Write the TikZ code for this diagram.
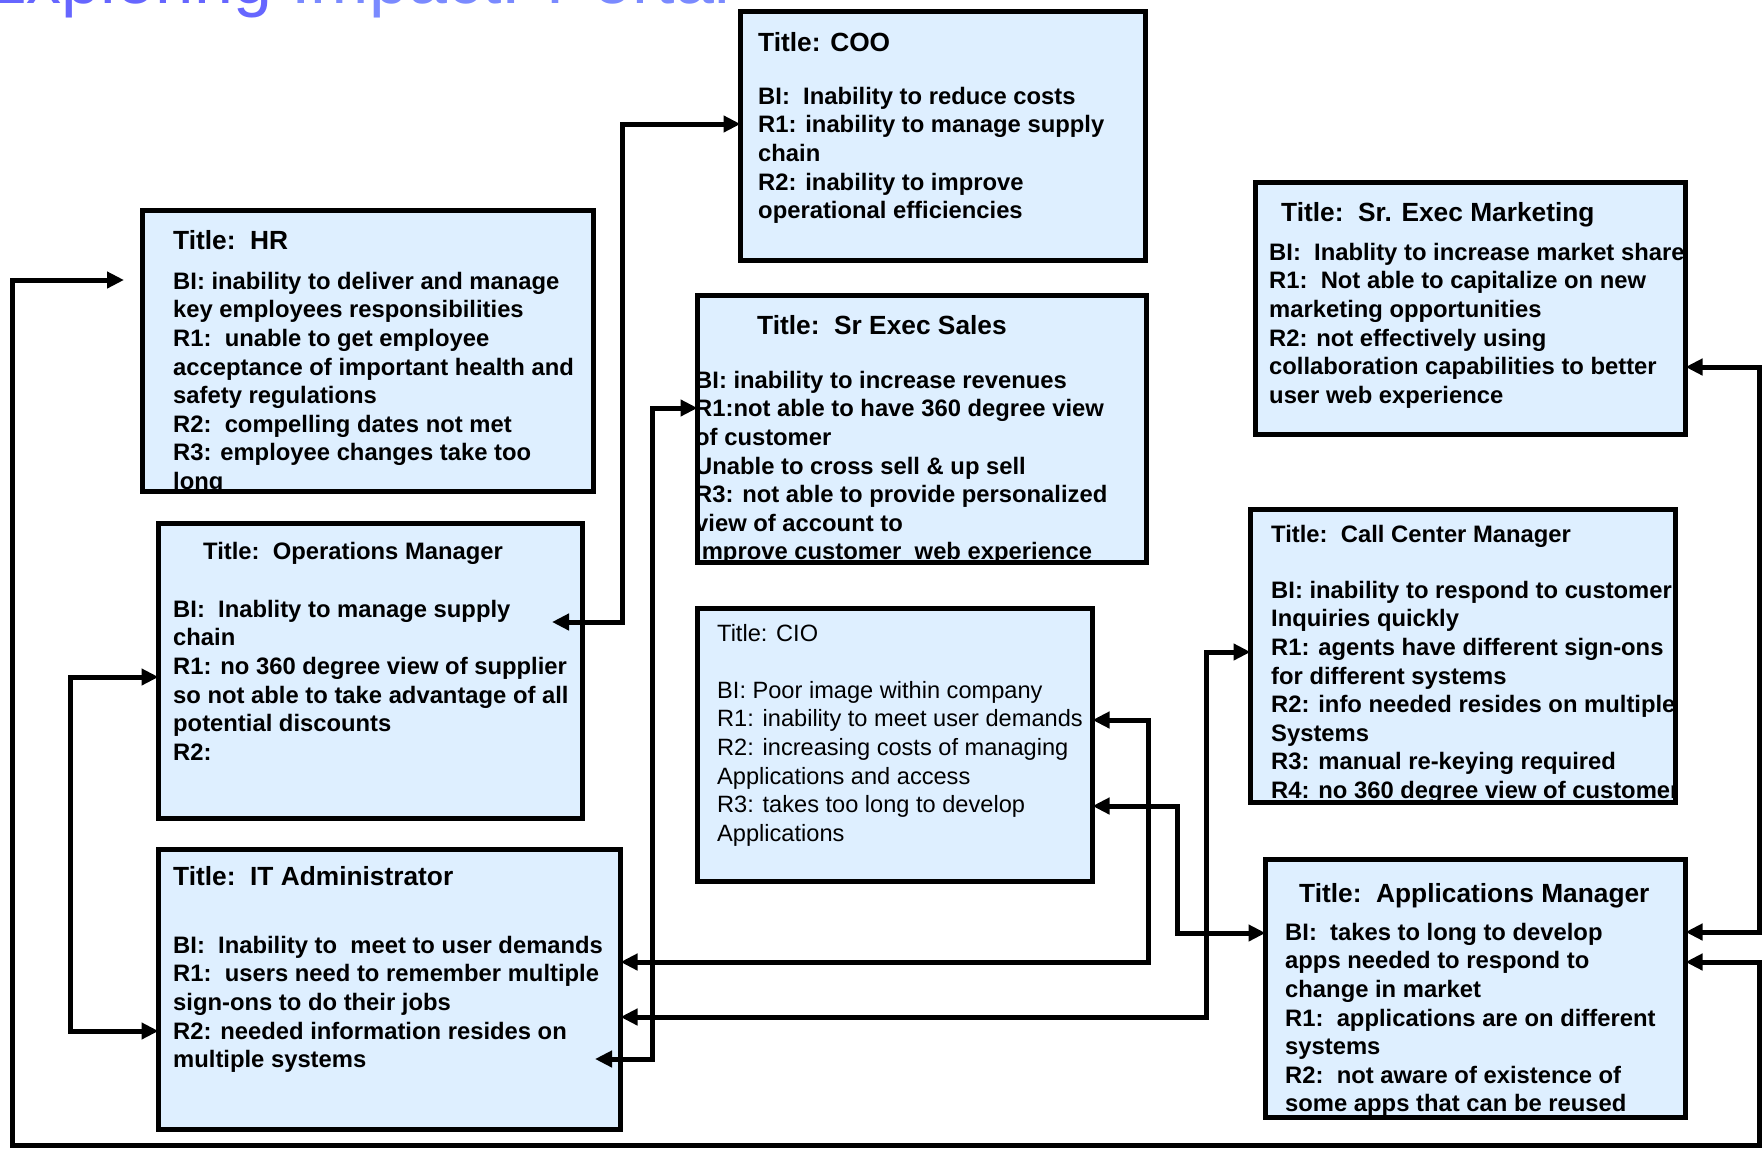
\documentclass[tikz,border=0pt]{standalone}
\usepackage{fontspec}
\setmainfont{Liberation Sans}
\usetikzlibrary{arrows.meta}

\definecolor{cardfill}{RGB}{222,239,255}
\definecolor{headblue}{RGB}{102,102,255}
\definecolor{headbluelight}{RGB}{122,138,255}

% first-line strut: puts the top of a text block 20pt above its first baseline
\newcommand{\cardstrut}{\rule{0pt}{20pt}}

\tikzset{
  cardbg/.style={fill=cardfill, draw=none, inner sep=0pt, outer sep=0pt, anchor=north west},
  cardline/.style={draw=black, line width=5pt},
  heading/.style={anchor=base west, inner sep=0pt, font=\fontsize{26.3}{31}\selectfont\bfseries},
  smallheading/.style={heading, font=\fontsize{23.8}{28.6}\selectfont\bfseries},
  plainheading/.style={heading, font=\fontsize{23.6}{28.6}\selectfont},
  body/.style={anchor=north west, inner sep=0pt, align=left, font=\fontsize{23.8}{28.6}\selectfont\bfseries},
  plainbody/.style={body, font=\fontsize{23.6}{28.6}\selectfont},
  link/.style={line width=5pt, {Triangle[length=17pt,width=16pt]}-{Triangle[length=17pt,width=16pt]}},
  pagetitle/.style={anchor=base west, inner sep=0pt, font=\fontsize{70}{80}\selectfont},
}

% card background: name, left, top, right, bottom (outer edges of the frame)
\newcommand{\rolecard}[5]{%
  \node[cardbg, minimum width={(#4)-(#2)-5}, minimum height={(#5)-(#3)-5}]
    (#1) at ({#2+2.5},{#3+2.5}) {};}
% card contents clipped to the frame, then the frame on top
\newcommand{\cardcontent}[2]{%
  \begin{scope}
    \clip (#1.north west) rectangle (#1.south east);
    #2
  \end{scope}
  \draw[cardline] (#1.north west) rectangle (#1.south east);}

\begin{document}
\begin{tikzpicture}[x=1pt,y=-1pt]
\useasboundingbox (0,0) rectangle (1762,1152);
\fill[white] (0,0) rectangle (1762,1152);

% page heading
\node[pagetitle] (pageTitle) at (-20,3)
  {{\color{headblue}Exploring} {\color{headbluelight}Impact: Portal}};

% ---------- cards ----------
\rolecard{coo}{738}{9}{1148}{263}
\cardcontent{coo}{%
  \node[heading] (cooTitle) at (758,51) {Title: COO};
  \node[body] (cooText) at (758,84) {\cardstrut BI:\ \ Inability to reduce costs\\
    R1: inability to manage supply\\
    chain\\
    R2: inability to improve\\
    operational efficiencies};}

\rolecard{hr}{140}{208}{596}{494}
\cardcontent{hr}{%
  \node[heading] (hrTitle) at (173,249) {Title:\ \ HR};
  \node[body] (hrText) at (173,269) {\cardstrut BI: inability to deliver and manage\\
    key employees responsibilities\\
    R1:\ \ unable to get employee\\
    acceptance of important health and\\
    safety regulations\\
    R2:\ \ compelling dates not met\\
    R3: employee changes take too\\
    long};}

\rolecard{mkt}{1253}{180}{1688}{437}
\cardcontent{mkt}{%
  \node[heading] (mktTitle) at (1281,221) {Title:\ \ Sr. Exec Marketing};
  \node[body] (mktText) at (1269,240) {\cardstrut BI:\ \ Inablity to increase market share\\
    R1:\ \ Not able to capitalize on new\\
    marketing opportunities\\
    R2: not effectively using\\
    collaboration capabilities to better\\
    user web experience};}

\rolecard{sales}{695}{293}{1149}{565}
\cardcontent{sales}{%
  \node[heading] (salesTitle) at (757,334) {Title:\ \ Sr Exec Sales};
  \node[body] (salesText) at (695,368) {\cardstrut BI: inability to increase revenues\\
    R1:not able to have 360 degree view\\
    of customer\\
    Unable to cross sell \& up sell\\
    R3: not able to provide personalized\\
    view of account to\\
    Improve customer\ \ web experience};}

\rolecard{ops}{156}{521}{585}{821}
\cardcontent{ops}{%
  \node[smallheading] (opsTitle) at (203,559) {Title:\ \ Operations Manager};
  \node[body] (opsText) at (173,597) {\cardstrut BI:\ \ Inablity to manage supply\\
    chain\\
    R1: no 360 degree view of supplier\\
    so not able to take advantage of all\\
    potential discounts\\
    R2:};}

\rolecard{cio}{695}{606}{1095}{884}
\cardcontent{cio}{%
  \node[plainheading] (cioTitle) at (717,641) {Title: CIO};
  \node[plainbody] (cioText) at (717,678) {\cardstrut BI: Poor image within company\\
    R1: inability to meet user demands\\
    R2: increasing costs of managing\\
    Applications and access\\
    R3: takes too long to develop\\
    Applications};}

\rolecard{call}{1248}{507}{1678}{805}
\cardcontent{call}{%
  \node[smallheading] (callTitle) at (1271,542) {Title:\ \ Call Center Manager};
  \node[body] (callText) at (1271,578) {\cardstrut BI: inability to respond to customer\\
    Inquiries quickly\\
    R1: agents have different sign-ons\\
    for different systems\\
    R2: info needed resides on multiple\\
    Systems\\
    R3: manual re-keying required\\
    R4: no 360 degree view of customer};}

\rolecard{it}{156}{847}{623}{1132}
\cardcontent{it}{%
  \node[heading] (itTitle) at (173,885) {Title:\ \ IT Administrator};
  \node[body] (itText) at (173,933) {\cardstrut BI:\ \ Inability to\ \ meet to user demands\\
    R1:\ \ users need to remember multiple\\
    sign-ons to do their jobs\\
    R2: needed information resides on\\
    multiple systems};}

\rolecard{apps}{1263}{857}{1688}{1120}
\cardcontent{apps}{%
  \node[heading] (appsTitle) at (1299,902) {Title:\ \ Applications Manager};
  \node[body] (appsText) at (1285,920) {\cardstrut BI:\ \ takes to long to develop\\
    apps needed to respond to\\
    change in market\\
    R1:\ \ applications are on different\\
    systems\\
    R2:\ \ not aware of existence of\\
    some apps that can be reused};}

% ---------- connectors ----------
% outer loop: HR around the page to Applications Manager
\coordinate (hrTip) at (124,280);
\coordinate (loopNW) at (12,280);
\coordinate (loopSW) at (12,1145);
\coordinate (loopSE) at (1759,1145);
\coordinate (loopNE) at (1759,962);
\draw[link] (hrTip) -- (loopNW) -- (loopSW) -- (loopSE) -- (loopNE) -- (loopNE -| apps.east);

% COO <-> Operations Manager
\coordinate (opsTip) at (552,622);
\coordinate (cooLow) at (622,622);
\coordinate (cooHigh) at (622,124);
\draw[link] (opsTip) -- (cooLow) -- (cooHigh) -- (cooHigh -| coo.west);

% Operations Manager <-> IT Administrator
\coordinate (leftTop) at (70,677);
\coordinate (leftBot) at (70,1031);
\draw[link] (leftTop -| ops.west) -- (leftTop) -- (leftBot) -- (leftBot -| it.west);

% Sr Exec Sales <-> IT Administrator
\coordinate (salesHigh) at (652,408);
\coordinate (salesLow) at (652,1059);
\coordinate (itTip) at (595,1059);
\draw[link] (salesHigh -| sales.west) -- (salesHigh) -- (salesLow) -- (itTip);

% CIO R1 <-> IT Administrator
\coordinate (cioOneHigh) at (1148,720);
\coordinate (cioOneLow) at (1148,962);
\draw[link] (cioOneHigh -| cio.east) -- (cioOneHigh) -- (cioOneLow) -- (cioOneLow -| it.east);

% CIO R3 <-> Applications Manager
\coordinate (cioThreeHigh) at (1177,806);
\coordinate (cioThreeLow) at (1177,933);
\draw[link] (cioThreeHigh -| cio.east) -- (cioThreeHigh) -- (cioThreeLow) -- (cioThreeLow -| apps.west);

% Call Center Manager <-> IT Administrator
\coordinate (callHigh) at (1206,652);
\coordinate (callLow) at (1206,1017);
\draw[link] (callHigh -| call.west) -- (callHigh) -- (callLow) -- (callLow -| it.east);

% Sr. Exec Marketing <-> Applications Manager
\coordinate (mktHigh) at (1759,367);
\coordinate (mktLow) at (1759,932);
\draw[link] (mktHigh -| mkt.east) -- (mktHigh) -- (mktLow) -- (mktLow -| apps.east);
\end{tikzpicture}
\end{document}
